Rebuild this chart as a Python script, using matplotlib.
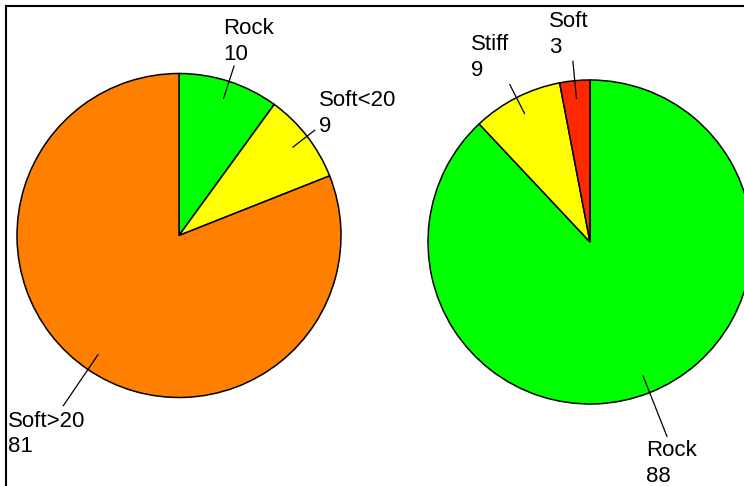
import numpy as np
import matplotlib
matplotlib.use('Agg')
import matplotlib.pyplot as plt
from matplotlib import font_manager

W, H = 744, 486

# left pie
left_labels = ['Rock', 'Soft<20', 'Soft>20']
left_values = [10, 9, 81]
left_colors = ['#00FF00', '#FFFF00', '#FF8000']

# right pie
right_labels = ['Rock', 'Stiff', 'Soft']
right_values = [88, 9, 3]
right_colors = ['#00FF00', '#FFFF00', '#FF2800']

FONT = 'Liberation Sans'
try:
	font_manager.findfont('Liberation Sans Narrow', fallback_to_default=False)
	NARROW = 'Liberation Sans Narrow'
except Exception:
	NARROW = FONT


def drawPie(ax, values, labels, colors, cx, cy, r, rout, offsets, valigns, fonts):
	cy = H - cy
	wedges, _ = ax.pie(values, colors=colors, startangle=90, counterclock=False,
		center=(cx, cy), radius=r,
		wedgeprops=dict(edgecolor='black', linewidth=1.1))
	for i, w in enumerate(wedges):
		ang = np.radians((w.theta1 + w.theta2) / 2.0)
		c, s = np.cos(ang), np.sin(ang)
		x0, y0 = cx + 0.89 * r * c, cy + 0.89 * r * s
		x1, y1 = cx + rout[i] * r * c, cy + rout[i] * r * s
		ax.plot([x0, x1], [y0, y1], color='black', lw=0.9)
		dx, dy = offsets[i]
		ax.text(x1 + dx, y1 + dy, '%s\n%d' % (labels[i], values[i]),
			ha='left', va=valigns[i], fontsize=16, family=fonts[i],
			linespacing=1.3)


def main():
	fig = plt.figure(figsize=(W / 100.0, H / 100.0), dpi=100)

	# frame, only left and top edges show
	fr = fig.add_axes([6.5 / W, -0.5, 2, 1.5 - 6.5 / H])
	fr.set_facecolor('none')
	for side in ['right', 'bottom']:
		fr.spines[side].set_visible(False)
	for side in ['left', 'top']:
		fr.spines[side].set_linewidth(1.5)
	fr.set_xticks([])
	fr.set_yticks([])

	ax = fig.add_axes([0, 0, 1, 1])
	ax.set_facecolor('none')

	drawPie(ax, left_values, left_labels, left_colors, 179, 235.5, 162,
		[1.10, 1.06, 1.27],
		[(-11, 1.5), (4, -6.5), (-55, -5)],
		['bottom', 'bottom', 'top'],
		[FONT, FONT, NARROW])
	drawPie(ax, right_values, right_labels, right_colors, 590, 242, 162,
		[1.29, 1.09, 1.12],
		[(-21, -4), (-39, 3.5), (-24, 3.5)],
		['top', 'bottom', 'bottom'],
		[FONT, FONT, FONT])

	ax.set_xlim(0, W)
	ax.set_ylim(0, H)
	ax.set_aspect('auto')
	ax.axis('off')

	fig.savefig('out.png', dpi=100, facecolor='white')


if __name__ == '__main__':
	main()
